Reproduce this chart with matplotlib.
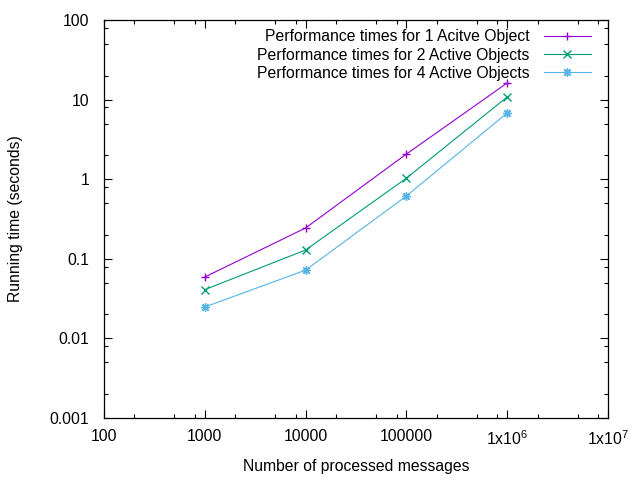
import numpy as np
import matplotlib
matplotlib.use("Agg")
import matplotlib.pyplot as plt
from matplotlib.ticker import LogLocator, FixedLocator, NullFormatter

plt.rcParams["font.family"] = ["Liberation Sans", "DejaVu Sans"]
plt.rcParams["mathtext.default"] = "regular"

messages = [1000, 10000, 100000, 1000000]
times_1 = [0.059, 0.244, 2.07, 16.2]
times_2 = [0.041, 0.129, 1.03, 10.8]
times_4 = [0.0248, 0.072, 0.615, 6.8]

x_ticks = [100, 1000, 10000, 100000, 1000000, 10000000]
x_labels = ["100", "1000", "10000", "100000", "1x10$^{6}$", "1x10$^{7}$"]
y_ticks = [0.001, 0.01, 0.1, 1, 10, 100]
y_labels = ["0.001", "0.01", "0.1", "1", "10", "100"]

fs = 11.3

fig = plt.figure(figsize=(6.4, 4.8), dpi=100)
ax = fig.add_axes([0.1625, 0.1292, 0.7875, 0.8291])

lw = 0.8
ax.plot(messages, times_1, color="#9400d3", lw=lw, marker="+", ms=6, mew=1,
        label="Performance times for 1 Acitve Object")
ax.plot(messages, times_2, color="#009e73", lw=lw, marker="x", ms=5.5, mew=1,
        label="Performance times for 2 Active Objects")
ax.plot(messages, times_4, color="#56b4e9", lw=lw, marker=(8, 2, 0), ms=6, mew=1,
        label="Performance times for 4 Active Objects")

ax.set_xscale("log")
ax.set_yscale("log")
ax.set_xlim(100, 1e7)
ax.set_ylim(0.001, 100)

ax.xaxis.set_major_locator(FixedLocator(x_ticks))
ax.set_xticklabels(x_labels)
ax.yaxis.set_major_locator(FixedLocator(y_ticks))
ax.set_yticklabels(y_labels)
ax.xaxis.set_minor_locator(LogLocator(base=10, subs=(2, 5, 8)))
ax.yaxis.set_minor_locator(LogLocator(base=10, subs=(2, 5, 8)))
ax.xaxis.set_minor_formatter(NullFormatter())
ax.yaxis.set_minor_formatter(NullFormatter())

ax.tick_params(which="both", direction="in", top=True, right=True, labelsize=fs,
               width=0.8, colors="black")
ax.tick_params(which="major", length=6)
ax.tick_params(axis="x", which="major", pad=8)
ax.tick_params(axis="y", which="major", pad=10.5)
ax.tick_params(which="minor", length=3)
for s in ax.spines.values():
    s.set_linewidth(0.9)

ax.set_xlabel("Number of processed messages", fontsize=fs, labelpad=8)
ax.set_ylabel("Running time (seconds)", fontsize=fs, labelpad=19)

ax.legend(loc="upper right", frameon=False, markerfirst=False, fontsize=fs,
          handlelength=3.0, handletextpad=0.9, labelspacing=0.2,
          borderaxespad=0.2, bbox_to_anchor=(0.985, 1.0))

plt.savefig("out.png", dpi=100)
plt.close()
